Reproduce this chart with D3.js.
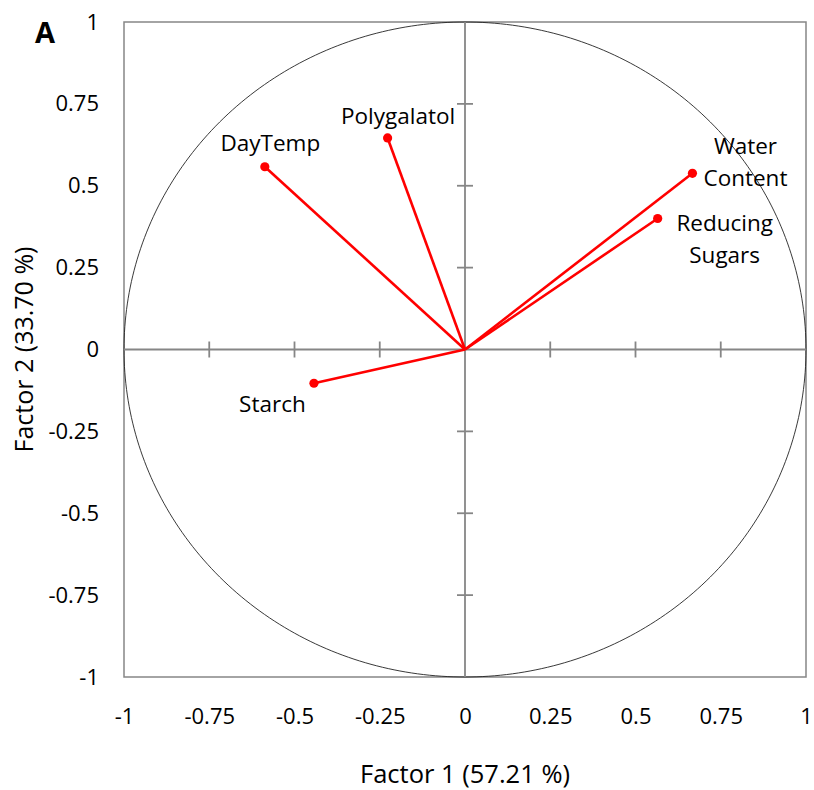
<!DOCTYPE html>
<html>
<head>
<meta charset="utf-8">
<script src="https://cdn.jsdelivr.net/npm/d3@7"></script>
<style>
  html, body { margin: 0; padding: 0; background: #fff; }
  svg { display: block; }
  text { font-family: "Open Sans", sans-serif; fill: #000; }
</style>
</head>
<body>
<script>
// ---- data ----
const variables = ["DayTemp", "Polygalatol", "Water Content", "Reducing Sugars", "Starch"];
const factor1 = [-0.587, -0.227, 0.667, 0.565, -0.443];
const factor2 = [0.558, 0.646, 0.538, 0.400, -0.103];
const tickValues = [-1, -0.75, -0.5, -0.25, 0, 0.25, 0.5, 0.75, 1];
const tickLabels = ["-1", "-0.75", "-0.5", "-0.25", "0", "0.25", "0.5", "0.75", "1"];
const xTitle = "Factor 1 (57.21 %)";
const yTitle = "Factor 2 (33.70 %)";
const panelLabel = "A";

// ---- layout (pixel offsets of labels relative to their points) ----
const labelLayout = {
  "DayTemp":        { lines: ["DayTemp"], dx: 5.5, dy: [-16] },
  "Polygalatol":    { lines: ["Polygalatol"], dx: 10.5, dy: [-14] },
  "Water Content":  { lines: ["Water", "Content"], dx: 53, dy: [-19, 13] },
  "Reducing Sugars":{ lines: ["Reducing", "Sugars"], dx: 67, dy: [12.5, 44] },
  "Starch":         { lines: ["Starch"], dx: -41.5, dy: [28.7] }
};

const W = 814, H = 790;
const svg = d3.select("body").append("svg").attr("width", W).attr("height", H);

const x = d3.scaleLinear().domain([-1, 1]).range([124, 806]);
const y = d3.scaleLinear().domain([-1, 1]).range([677, 22]);

const axisColor = "#868686";

// plot border
svg.append("rect")
  .attr("x", x(-1)).attr("y", y(1))
  .attr("width", x(1) - x(-1)).attr("height", y(-1) - y(1))
  .attr("fill", "none").attr("stroke", axisColor).attr("stroke-width", 1.5);

// unit circle (correlation circle)
const circ = d3.range(0, 361, 1).map(a => [Math.cos(a * Math.PI / 180), Math.sin(a * Math.PI / 180)]);
svg.append("path")
  .datum(circ)
  .attr("d", d3.line().x(d => x(d[0])).y(d => y(d[1])))
  .attr("fill", "none").attr("stroke", "#222").attr("stroke-width", 0.9);

// center axes
svg.append("line")
  .attr("x1", x(-1)).attr("x2", x(1)).attr("y1", y(0)).attr("y2", y(0))
  .attr("stroke", axisColor).attr("stroke-width", 1.8);
svg.append("line")
  .attr("x1", x(0)).attr("x2", x(0)).attr("y1", y(1)).attr("y2", y(-1))
  .attr("stroke", axisColor).attr("stroke-width", 1.8);

// crossing tick marks on the center axes
const inner = tickValues.filter(v => v !== 0 && Math.abs(v) !== 1);
svg.append("g").selectAll("line").data(inner).join("line")
  .attr("x1", d => x(d)).attr("x2", d => x(d))
  .attr("y1", y(0) - 8).attr("y2", y(0) + 8)
  .attr("stroke", axisColor).attr("stroke-width", 1.8);
svg.append("g").selectAll("line").data(inner).join("line")
  .attr("y1", d => y(d)).attr("y2", d => y(d))
  .attr("x1", x(0) - 8).attr("x2", x(0) + 8)
  .attr("stroke", axisColor).attr("stroke-width", 1.8);

// tick labels via d3 axes
const fmt = d => tickLabels[tickValues.indexOf(d)];
const xAxis = svg.append("g")
  .attr("transform", `translate(0,${y(-1)})`)
  .call(d3.axisBottom(x).tickValues(tickValues).tickFormat(fmt).tickSize(0).tickPadding(31));
xAxis.select(".domain").remove();
xAxis.selectAll("text").attr("font-family", "Open Sans").attr("font-size", 22).attr("fill", "#000");

const yAxis = svg.append("g")
  .attr("transform", `translate(${x(-1)},0)`)
  .call(d3.axisLeft(y).tickValues(tickValues).tickFormat(fmt).tickSize(0).tickPadding(25));
yAxis.select(".domain").remove();
yAxis.selectAll("text").attr("font-family", "Open Sans").attr("font-size", 22).attr("fill", "#000");

// axis titles
svg.append("text")
  .attr("x", x(0)).attr("y", 783)
  .attr("text-anchor", "middle").attr("font-size", 25.5)
  .text(xTitle);
svg.append("text")
  .attr("transform", `translate(33,${y(0)}) rotate(-90)`)
  .attr("text-anchor", "middle").attr("font-size", 25)
  .text(yTitle);

// panel label
svg.append("text")
  .attr("x", 35).attr("y", 43)
  .attr("font-family", "Liberation Sans, Arial, sans-serif")
  .attr("font-weight", "bold").attr("font-size", 29)
  .text(panelLabel);

// vectors
const pts = variables.map((v, i) => ({ name: v, f1: factor1[i], f2: factor2[i] }));
svg.append("g").selectAll("line").data(pts).join("line")
  .attr("x1", x(0)).attr("y1", y(0))
  .attr("x2", d => x(d.f1)).attr("y2", d => y(d.f2))
  .attr("stroke", "#ff0000").attr("stroke-width", 2.6);
svg.append("g").selectAll("circle").data(pts).join("circle")
  .attr("cx", d => x(d.f1)).attr("cy", d => y(d.f2)).attr("r", 4.6)
  .attr("fill", "#ff0000");

// labels
const lbl = svg.append("g").selectAll("text").data(pts).join("text")
  .attr("text-anchor", "middle").attr("font-size", 22.5);
lbl.each(function(d) {
  const L = labelLayout[d.name];
  d3.select(this).selectAll("tspan").data(L.lines).join("tspan")
    .attr("x", x(d.f1) + L.dx)
    .attr("y", (t, i) => y(d.f2) + L.dy[i])
    .text(t => t);
});
</script>
</body>
</html>
